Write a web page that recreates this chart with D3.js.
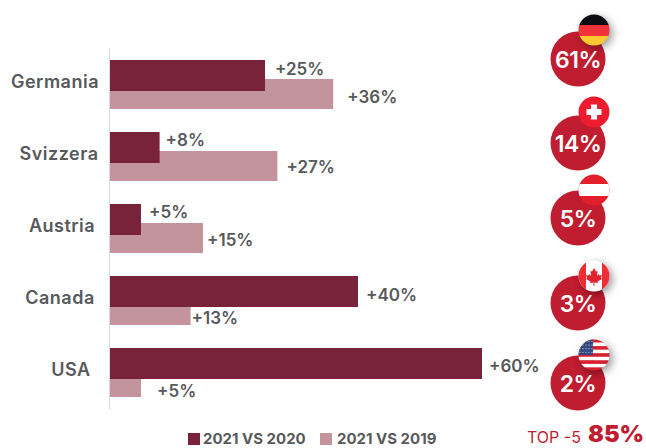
<!DOCTYPE html>
<html>
<head>
<meta charset="utf-8">
<script src="https://cdn.jsdelivr.net/npm/d3@7"></script>
<style>
  html, body { margin: 0; padding: 0; background: #fff; }
  svg { display: block; }
  text { font-family: Inter, "Noto Sans", sans-serif; }
</style>
</head>
<body>
<div id="chart"></div>
<script>
// data
var countries = ["Germania", "Svizzera", "Austria", "Canada", "USA"];
var vs2020 = [25, 8, 5, 40, 60];
var vs2019 = [36, 27, 15, 13, 5];
var shares = [61, 14, 5, 3, 2];
var flags = ["de", "ch", "at", "ca", "us"];
var seriesNames = ["2021 VS 2020", "2021 VS 2019"];
var topLabel = "TOP -5";
var topValue = "85%";

// layout, hand fitted to the picture
var width = 646, height = 448,
    x0 = 110,
    unit = 6.2,
    barH = 31,
    lightH = 30,
    lightOffset = 19,
    grey = "#58595b",
    dark = "#78233a",
    light = "#c3949b",
    red = "#c01d30";

var labelNudge2020 = [[10, 8], [6, 7], [8, 7], [8, 18], [7, 17]];
var labelNudge2019 = [[14, 17], [9, 15], [4, 16], [1, 22], [16, 23]];
var nameCenter = [55, 59, 62, 60, 71];
var badgeY = [59, 143, 218, 303, 383];
var flagY = [30, 112, 190, 276, 355];

var svg = d3.select("#chart").append("svg")
    .attr("width", width)
    .attr("height", height);

var xScale = d3.scaleLinear().domain([0, 60]).range([x0, x0 + 60 * unit]);
var yScale = d3.scaleBand().domain(countries).range([60, 420]);

var defs = svg.append("defs");
var blur = defs.append("filter").attr("id", "soft")
    .attr("x", "-50%").attr("y", "-50%").attr("width", "200%").attr("height", "200%");
blur.append("feGaussianBlur").attr("stdDeviation", 4);

// axis line
svg.append("line")
    .attr("x1", x0 - 0.5).attr("x2", x0 - 0.5)
    .attr("y1", 48).attr("y2", 409)
    .attr("stroke", "#d9d9d9")
    .attr("stroke-width", 1);

var rows = svg.selectAll("g.row")
    .data(countries)
    .enter()
    .append("g")
    .attr("class", "row");

rows.append("rect")
    .attr("x", x0)
    .attr("y", function(d) { return yScale(d) + lightOffset; })
    .attr("width", function(d, i) { return xScale(vs2019[i]) - x0; })
    .attr("height", lightH)
    .attr("fill", light);

rows.append("rect")
    .attr("x", x0)
    .attr("y", function(d) { return yScale(d); })
    .attr("width", function(d, i) { return xScale(vs2020[i]) - x0; })
    .attr("height", barH)
    .attr("fill", dark);

rows.append("text")
    .attr("x", function(d, i) { return nameCenter[i]; })
    .attr("y", function(d) { return yScale(d) + 28; })
    .attr("text-anchor", "middle")
    .attr("font-size", 18)
    .attr("font-weight", 600)
    .attr("letter-spacing", 0.5)
    .attr("fill", grey)
    .text(function(d) { return d; });

rows.append("text")
    .attr("x", function(d, i) { return xScale(vs2020[i]) + labelNudge2020[i][0]; })
    .attr("y", function(d, i) { return yScale(d) + labelNudge2020[i][1] + 7; })
    .attr("font-size", 17)
    .attr("font-weight", 600)
    .attr("fill", grey)
    .text(function(d, i) { return "+" + vs2020[i] + "%"; });

rows.append("text")
    .attr("x", function(d, i) { return xScale(vs2019[i]) + labelNudge2019[i][0]; })
    .attr("y", function(d, i) { return yScale(d) + lightOffset + labelNudge2019[i][1] + 7; })
    .attr("font-size", 17)
    .attr("font-weight", 600)
    .attr("fill", grey)
    .text(function(d, i) { return "+" + vs2019[i] + "%"; });

// share badges
var badgeX = 578, badgeR = 27.5, flagX = 594, flagR = 15.5;

var badges = svg.selectAll("g.badge")
    .data(shares)
    .enter()
    .append("g")
    .attr("class", "badge");

badges.append("circle")
    .attr("cx", badgeX)
    .attr("cy", function(d, i) { return badgeY[i]; })
    .attr("r", badgeR)
    .attr("fill", red);

badges.append("text")
    .attr("x", badgeX)
    .attr("y", function(d, i) { return badgeY[i] + 9; })
    .attr("text-anchor", "middle")
    .attr("font-size", 23)
    .attr("font-weight", 600)
    .attr("letter-spacing", -0.5)
    .attr("fill", "#fff")
    .text(function(d) { return d + "%"; });

// flags, drawn in a 31x31 box around the flag centre
function band(g, y, h, color) {
  g.append("rect").attr("x", -16).attr("y", y).attr("width", 32).attr("height", h).attr("fill", color);
}

var drawFlag = {
  de: function(g) {
    band(g, -16, 11, "#0b0b10");
    band(g, -5, 11, "#f0333a");
    band(g, 6, 10, "#fdc82f");
  },
  ch: function(g) {
    band(g, -16, 32, "#ee1c2e");
    g.append("rect").attr("x", -7.5).attr("y", -3).attr("width", 15).attr("height", 6).attr("fill", "#fff");
    g.append("rect").attr("x", -3).attr("y", -7.5).attr("width", 6).attr("height", 15).attr("fill", "#fff");
  },
  at: function(g) {
    band(g, -16, 32, "#e21f2b");
    band(g, -6, 12, "#fff");
  },
  ca: function(g) {
    band(g, -16, 32, "#fff");
    g.append("rect").attr("x", -16).attr("y", -16).attr("width", 8).attr("height", 32).attr("fill", "#ee2e36");
    g.append("rect").attr("x", 8).attr("y", -16).attr("width", 8).attr("height", 32).attr("fill", "#ee2e36");
    g.append("path")
      .attr("d", "M0,-8 L2,-4.5 L3.5,-5 L3,0 L5,-2 L5.5,-0.5 L8,-1 L7,2 L8,3 L3.5,5.5 L4,7 L0.5,6.5 L0.5,10 L-0.5,10 L-0.5,6.5 L-4,7 L-3.5,5.5 L-8,3 L-7,2 L-8,-1 L-5.5,-0.5 L-5,-2 L-3,0 L-3.5,-5 L-2,-4.5 Z")
      .attr("fill", "#e2222c");
  },
  us: function(g) {
    d3.range(9).forEach(function(i) {
      band(g, -16 + i * 32 / 9, 32 / 9 + 0.3, i % 2 ? "#fff" : "#d9202f");
    });
    g.append("rect").attr("x", -16).attr("y", -16).attr("width", 15).attr("height", 16).attr("fill", "#35477f");
    d3.range(4).forEach(function(r) {
      d3.range(5).forEach(function(c) {
        g.append("circle").attr("cx", -14 + c * 3).attr("cy", -13.5 + r * 3.6).attr("r", 0.6).attr("fill", "#c8cfe4");
      });
    });
  }
};

flags.forEach(function(code, i) {
  defs.append("clipPath").attr("id", "clip-" + code)
      .append("circle").attr("r", flagR);

  var holder = svg.append("g")
      .attr("transform", "translate(" + flagX + "," + flagY[i] + ")");

  // the white-field flags have a soft shadow in the picture
  if (code != "ch" && code != "at") {
    holder.append("circle")
        .attr("cx", 3).attr("cy", 3)
        .attr("r", flagR)
        .attr("fill", "#000")
        .attr("opacity", 0.4)
        .attr("filter", "url(#soft)");
  }

  var g = holder.append("g").attr("clip-path", "url(#clip-" + code + ")");
  drawFlag[code](g);
});

// legend
var legendX = [188, 320], legendTextX = [203, 337];

var legend = svg.selectAll("g.legend")
    .data(seriesNames)
    .enter()
    .append("g")
    .attr("class", "legend");

legend.append("rect")
    .attr("x", function(d, i) { return legendX[i]; })
    .attr("y", 433)
    .attr("width", 12)
    .attr("height", 12)
    .attr("fill", function(d, i) { return i ? light : dark; });

legend.append("text")
    .attr("x", function(d, i) { return legendTextX[i]; })
    .attr("y", 444)
    .attr("font-size", 15)
    .attr("font-weight", 700)
    .attr("fill", grey)
    .text(function(d) { return d; });

svg.append("text")
    .attr("x", 527).attr("y", 443)
    .attr("font-size", 16)
    .attr("fill", red)
    .text(topLabel);

svg.append("text")
    .attr("x", 588).attr("y", 442.2)
    .attr("font-size", 23.5)
    .attr("font-weight", 900)
    .attr("fill", red)
    .text(topValue);
</script>
</body>
</html>
